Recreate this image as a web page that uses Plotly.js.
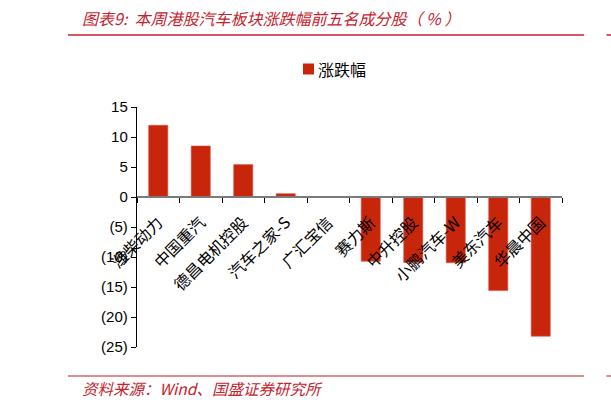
<!DOCTYPE html>
<html>
<head>
<meta charset="utf-8">
<script src="https://cdn.plot.ly/plotly-3.0.1.min.js"></script>
<style>
  html, body { margin: 0; padding: 0; background: #fff; }
  #chart { width: 611px; height: 408px; }
</style>
</head>
<body>
<div id="chart"></div>
<script>
// stocks, in chart order
var categories = ['潍柴动力', '中国重汽', '德昌电机控股', '汽车之家-S', '广汇宝信',
                  '赛力斯', '中升控股', '小鹏汽车-W', '美东汽车', '华晨中国'];
// weekly change, %
var changes = [11.95, 8.5, 5.4, 0.55, 0.0, -10.7, -10.9, -10.95, -15.6, -23.2];
var seriesName = '涨跌幅';

// y ticks, negatives shown in brackets
var yTickVals = [15, 10, 5, 0, -5, -10, -15, -20, -25];
var yTickText = ['15', '10', '5', '0', '(5)', '(10)', '(15)', '(20)', '(25)'];

var titleText = '图表9:  本周港股汽车板块涨跌幅前五名成分股（ % ）';
var sourceText = '资料来源：Wind、国盛证券研究所';

var red = '#c8260a';
var docRed = '#c4232e';

var data = [{
  type: 'bar',
  x: categories,
  y: changes,
  name: seriesName,
  marker: { color: red, line: { color: '#d9534a', width: 0.6 } },
  hoverinfo: 'x+y'
}];

// plot box is 425 x 240 px, so px -> paper is easy to work out
function px(x) { return (x - 137) / 425; }
function py(y) { return (347 - y) / 240; }

var layout = {
  width: 611,
  height: 408,
  margin: { l: 137, r: 49, t: 107, b: 61 },
  paper_bgcolor: '#fff',
  plot_bgcolor: '#fff',
  bargap: 0.55,
  showlegend: false,
  xaxis: {
    type: 'category',
    anchor: 'free',
    position: 0.625,   // where 0 sits on the y range [-25, 15]
    tickson: 'boundaries',
    ticks: 'outside', ticklen: 5, tickcolor: '#000', tickwidth: 1,
    tickangle: -45,
    ticklabelstandoff: 9,
    tickfont: { family: 'Noto Sans CJK SC', size: 16, color: '#000' },
    showline: true, linecolor: '#7a7a7a', linewidth: 2,
    showgrid: false, zeroline: false,
    automargin: false,
    fixedrange: true
  },
  yaxis: {
    range: [-25, 15],
    tickmode: 'array', tickvals: yTickVals, ticktext: yTickText,
    ticks: 'outside', ticklen: 5, tickcolor: '#000', tickwidth: 1,
    tickfont: { family: 'Liberation Sans', size: 15, color: '#000' },
    showline: true, linecolor: '#000', linewidth: 1.2,
    showgrid: false, zeroline: false,
    automargin: false,
    fixedrange: true
  },
  annotations: [
    { text: '<i>' + titleText + '</i>', xref: 'paper', yref: 'paper',
      x: px(80), y: py(18), xanchor: 'left', yanchor: 'middle', showarrow: false,
      font: { family: 'Noto Sans CJK SC', size: 16, color: docRed } },
    { text: '<i>' + sourceText + '</i>', xref: 'paper', yref: 'paper',
      x: px(80), y: py(388), xanchor: 'left', yanchor: 'middle', showarrow: false,
      font: { family: 'Noto Sans CJK SC', size: 15.5, color: docRed } },
    // legend text
    { text: seriesName, xref: 'paper', yref: 'paper',
      x: px(316), y: py(69), xanchor: 'left', yanchor: 'middle', showarrow: false,
      font: { family: 'Noto Sans CJK SC', size: 16, color: '#000' } }
  ],
  shapes: [
    { type: 'line', xref: 'paper', yref: 'paper', x0: px(68), x1: px(584), y0: py(35), y1: py(35),
      line: { color: docRed, width: 1.5 } },
    { type: 'line', xref: 'paper', yref: 'paper', x0: px(606.5), x1: px(612), y0: py(35), y1: py(35),
      line: { color: docRed, width: 1.5 } },
    { type: 'line', xref: 'paper', yref: 'paper', x0: px(68), x1: px(584), y0: py(376), y1: py(376),
      line: { color: '#d9646a', width: 1.5 } },
    { type: 'line', xref: 'paper', yref: 'paper', x0: px(606.5), x1: px(612), y0: py(376), y1: py(376),
      line: { color: '#d9646a', width: 1.5 } },
    // legend swatch
    { type: 'rect', xref: 'paper', yref: 'paper', x0: px(303), x1: px(314), y0: py(63.5), y1: py(74.5),
      fillcolor: red, line: { width: 0 } }
  ]
};

Plotly.newPlot('chart', data, layout, { staticPlot: true, displayModeBar: false });
</script>
</body>
</html>
